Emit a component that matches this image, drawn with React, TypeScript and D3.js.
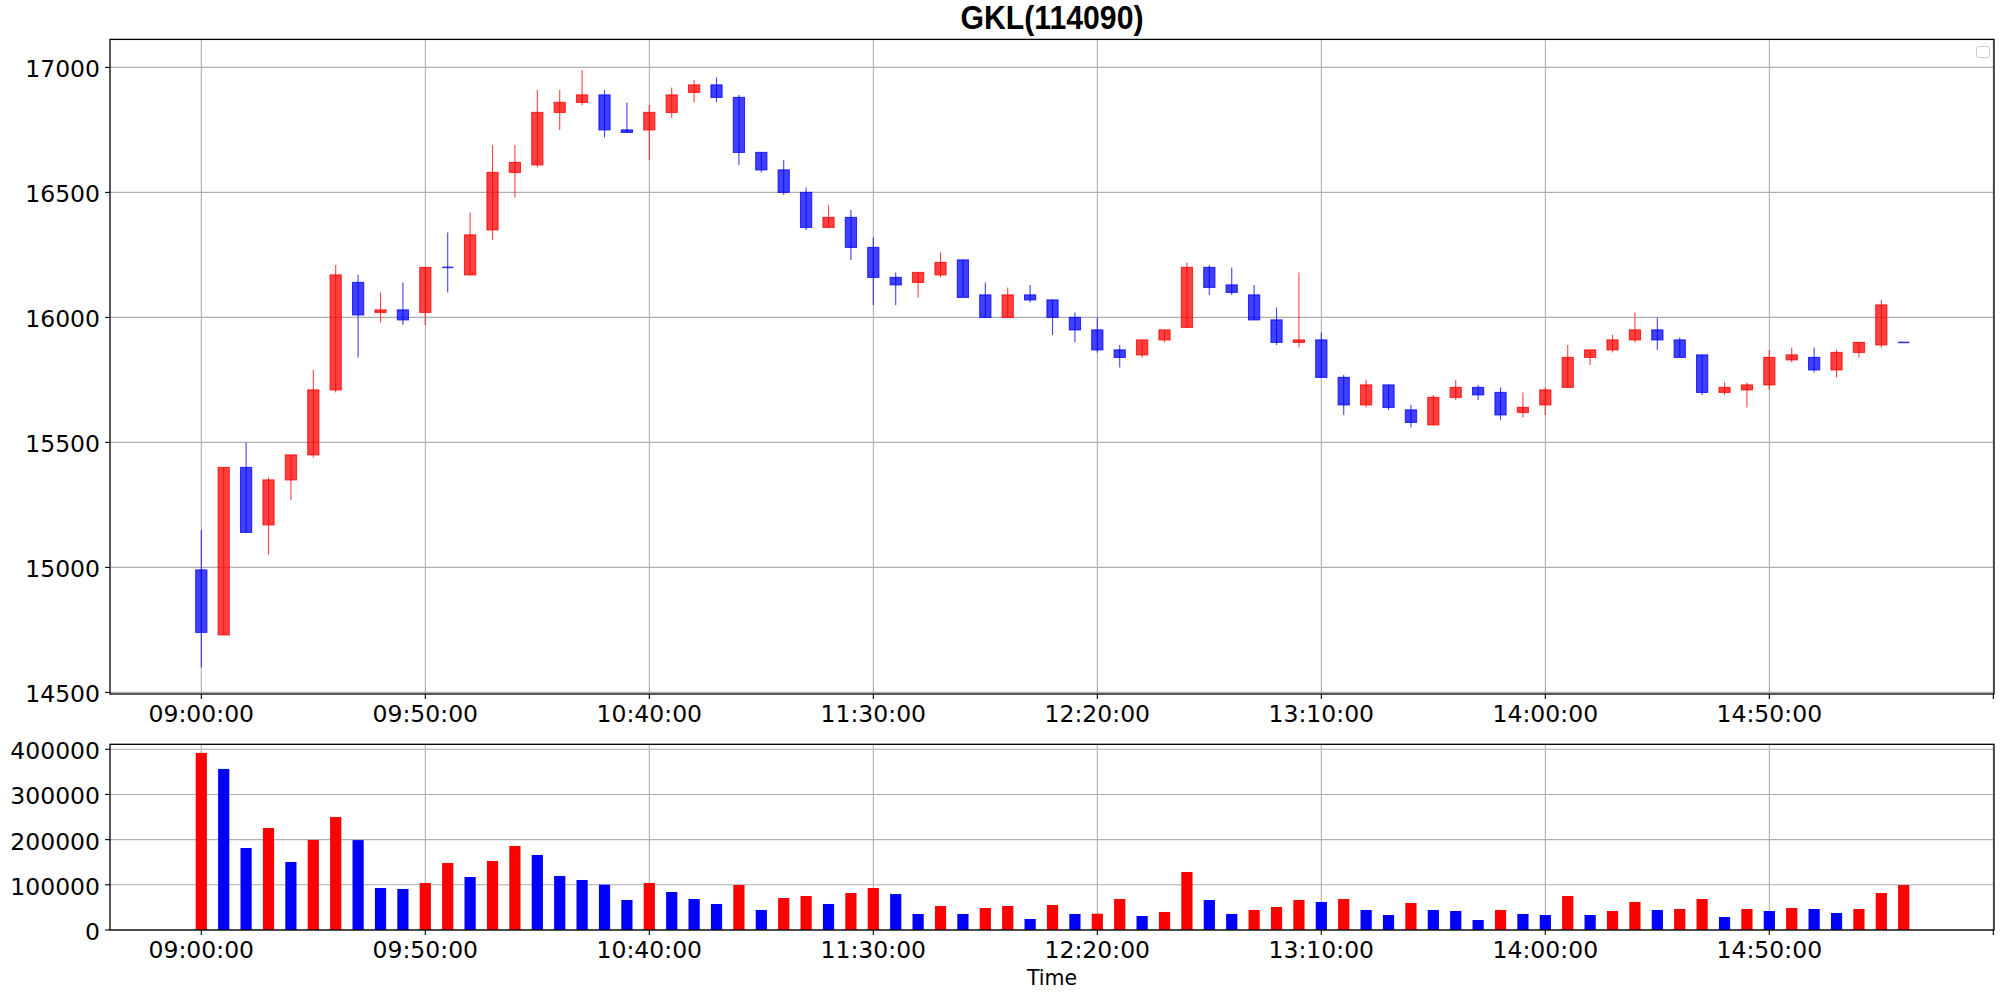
import React from "react";
import * as d3 from "d3";

const TITLE = "GKL(114090)";
const X_LABEL = "Time";

const times = [
  "09:00","09:05","09:10","09:15","09:20","09:25","09:30","09:35","09:40","09:45",
  "09:50","09:55","10:00","10:05","10:10","10:15","10:20","10:25","10:30","10:35",
  "10:40","10:45","10:50","10:55","11:00","11:05","11:10","11:15","11:20","11:25",
  "11:30","11:35","11:40","11:45","11:50","11:55","12:00","12:05","12:10","12:15",
  "12:20","12:25","12:30","12:35","12:40","12:45","12:50","12:55","13:00","13:05",
  "13:10","13:15","13:20","13:25","13:30","13:35","13:40","13:45","13:50","13:55",
  "14:00","14:05","14:10","14:15","14:20","14:25","14:30","14:35","14:40","14:45",
  "14:50","14:55","15:00","15:05","15:10","15:15","15:20",
];

const opens = [
  14990,14730,15400,15170,15350,15450,15710,16140,16020,16030,
  16020,16200,16170,16350,16580,16610,16820,16860,16890,16750,
  16750,16820,16900,16930,16880,16660,16590,16500,16360,16400,
  16280,16160,16140,16170,16230,16090,16000,16090,16070,16000,
  15950,15870,15850,15910,15960,16200,16130,16090,15990,15900,
  15910,15760,15650,15730,15630,15570,15680,15720,15700,15620,
  15650,15720,15840,15870,15910,15950,15910,15850,15700,15710,
  15730,15830,15840,15790,15860,15890,15900,
];
const highs = [
  15150,15400,15500,15360,15450,15790,16210,16170,16100,16140,
  16200,16340,16420,16690,16690,16910,16910,16990,16910,16860,
  16850,16920,16950,16960,16890,16660,16630,16520,16450,16430,
  16320,16180,16180,16260,16230,16140,16120,16130,16070,16020,
  16000,15890,15910,15950,16220,16210,16200,16130,16040,16180,
  15940,15770,15750,15730,15650,15690,15750,15730,15720,15700,
  15720,15890,15870,15930,16020,16000,15920,15850,15740,15740,
  15870,15880,15880,15870,15900,16070,15900,
];
const lows = [
  14600,14730,15140,15050,15270,15440,15700,15840,15980,15970,
  15970,16100,16170,16310,16480,16600,16750,16850,16720,16740,
  16630,16800,16860,16860,16610,16580,16490,16350,16360,16230,
  16050,16050,16080,16160,16080,16000,16000,16060,15930,15900,
  15860,15800,15840,15900,15960,16090,16090,15990,15890,15880,
  15760,15610,15640,15630,15560,15570,15670,15670,15590,15600,
  15610,15720,15810,15860,15900,15870,15840,15690,15690,15640,
  15710,15820,15780,15760,15840,15880,15900,
];
const closes = [
  14740,15400,15140,15350,15450,15710,16170,16010,16030,15990,
  16200,16200,16330,16580,16620,16820,16860,16890,16750,16740,
  16820,16890,16930,16880,16660,16590,16500,16360,16400,16280,
  16160,16130,16180,16220,16080,16000,16090,16070,16000,15950,
  15870,15840,15910,15950,16200,16120,16100,15990,15900,15910,
  15760,15650,15730,15640,15580,15680,15720,15690,15610,15640,
  15710,15840,15870,15910,15950,15910,15840,15700,15720,15730,
  15840,15850,15790,15860,15900,16050,15900,
];
const volumes = [
  392000,356500,181500,225800,150600,199300,250200,199000,93000,90800,
  104100,148300,117300,152800,186000,166100,119600,110700,100400,66400,
  104100,84100,68600,57600,99600,44300,70800,75300,57600,81900,
  93000,79700,35400,53100,35400,48700,53100,24400,55400,35400,
  36000,68600,31000,39900,128400,66400,35400,44300,50900,66400,
  62000,68600,44300,33200,59800,44300,42100,22100,44300,35400,
  33200,75300,33200,42100,62000,44300,46500,68600,28800,46500,
  42100,48700,46500,37600,46500,81900,99600,
];

const xTickLabels = ["09:00:00","09:50:00","10:40:00","11:30:00","12:20:00","13:10:00","14:00:00","14:50:00",""];
const priceTicks = [14500, 15000, 15500, 16000, 16500, 17000];
const volumeTicks = [0, 100000, 200000, 300000, 400000];

const W = 2004;
const H = 998;
const L = 110;
const R = 1994;
const PT = 39.4;
const PB = 694;
const VT = 744.3;
const VB = 930;
const FONT = "'DejaVu Sans', sans-serif";
const UP = "#ff0000";
const DOWN = "#0000ff";
const GRID = "#b0b0b0";
const TICK_FS = 23.5;

export default function App() {
  const x = d3.scaleLinear().domain([-4.076, 80.03]).range([L, R]);
  const yP = d3.scaleLinear().domain([14493.6, 17112]).range([PB, PT]);
  const yV = d3.scaleLinear().domain([0, 411000]).range([VB, VT]);
  const step = x(1) - x(0);
  const bw = step * 0.5;
  const xTicks = xTickLabels.map((_, k) => k * 10);

  const candles = times.map((t, i) => {
    const o = opens[i], c = closes[i], h = highs[i], l = lows[i];
    const up = c > o;
    const col = up ? UP : DOWN;
    const cx = x(i);
    const top = yP(Math.max(o, c));
    const bot = yP(Math.min(o, c));
    const hgt = bot - top;
    return (
      <g key={t}>
        {h !== l && (
          <line x1={cx} x2={cx} y1={yP(h)} y2={yP(l)} stroke={col} strokeOpacity={0.75} strokeWidth={1.1} />
        )}
        {hgt > 0.5 ? (
          <rect x={cx - bw / 2} y={top} width={bw} height={hgt}
            fill={col} fillOpacity={0.75} stroke={col} strokeOpacity={0.75} strokeWidth={1.1} />
        ) : (
          <line x1={cx - bw / 2} x2={cx + bw / 2} y1={top} y2={top} stroke={col} strokeOpacity={0.8} strokeWidth={1.6} />
        )}
      </g>
    );
  });

  const bars = volumes.map((v, i) => {
    const up = i === 0 || v > volumes[i - 1];
    return (
      <rect key={times[i]} x={x(i) - bw / 2} y={yV(v)} width={bw} height={VB - yV(v)} fill={up ? UP : DOWN} />
    );
  });

  const panelGrid = (yT: number, yB: number) =>
    xTicks.map((k) => (
      <line key={"gx" + k + yT} x1={x(k)} x2={x(k)} y1={yT} y2={yB} stroke={GRID} strokeWidth={1.1} />
    ));

  const xAxis = (yB: number) =>
    xTicks.map((k, j) => (
      <g key={"xt" + k + yB}>
        <line x1={x(k)} x2={x(k)} y1={yB} y2={yB + 4.9} stroke="#000" strokeWidth={1.1} />
        <text x={x(k)} y={yB + 28} textAnchor="middle" fontFamily={FONT} fontSize={TICK_FS}>{xTickLabels[j]}</text>
      </g>
    ));

  return (
    <svg width={W} height={H} style={{ position: "absolute", left: 0, top: 0, background: "#fff" }}>
      <rect x={0} y={0} width={W} height={H} fill="#fff" />
      <text x={(L + R) / 2} y={29} textAnchor="middle" fontFamily="'Liberation Sans', Arial, sans-serif"
        fontWeight="bold" fontSize={33} textLength={183} lengthAdjust="spacingAndGlyphs">{TITLE}</text>

      {/* price panel */}
      {panelGrid(PT, PB)}
      {priceTicks.map((v) => (
        <line key={"gp" + v} x1={L} x2={R} y1={yP(v)} y2={yP(v)} stroke={GRID} strokeWidth={1.1} />
      ))}
      {candles}
      <rect x={L} y={PT} width={R - L} height={PB - PT} fill="none" stroke="#000" strokeWidth={1.3} />
      {priceTicks.map((v) => (
        <g key={"pt" + v}>
          <line x1={L - 4.9} x2={L} y1={yP(v)} y2={yP(v)} stroke="#000" strokeWidth={1.1} />
          <text x={L - 10} y={yP(v) + 10} textAnchor="end" fontFamily={FONT} fontSize={TICK_FS}>{v}</text>
        </g>
      ))}
      {xAxis(PB)}
      <rect x={1976.5} y={46.5} width={13} height={11} rx={2} fill="#fff" fillOpacity={0.8} stroke="#cccccc" strokeWidth={1} />

      {/* volume panel */}
      {panelGrid(VT, VB)}
      {volumeTicks.map((v) => (
        <line key={"gv" + v} x1={L} x2={R} y1={yV(v)} y2={yV(v)} stroke={GRID} strokeWidth={1.1} />
      ))}
      {bars}
      <rect x={L} y={VT} width={R - L} height={VB - VT} fill="none" stroke="#000" strokeWidth={1.3} />
      {volumeTicks.map((v) => (
        <g key={"vt" + v}>
          <line x1={L - 4.9} x2={L} y1={yV(v)} y2={yV(v)} stroke="#000" strokeWidth={1.1} />
          <text x={L - 10} y={yV(v) + 10} textAnchor="end" fontFamily={FONT} fontSize={TICK_FS}>{v}</text>
        </g>
      ))}
      {xAxis(VB)}
      <text x={(L + R) / 2} y={985} textAnchor="middle" fontFamily={FONT} fontSize={20.5}>{X_LABEL}</text>
    </svg>
  );
}
